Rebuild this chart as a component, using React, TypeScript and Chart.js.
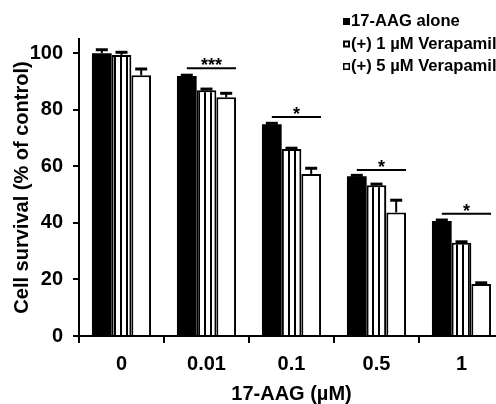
import React, { useEffect, useRef } from 'react';
import { Chart, registerables } from 'chart.js';

Chart.register(...registerables);

const FONT = '"Liberation Sans", Arial, sans-serif';

const categories = ['0', '0.01', '0.1', '0.5', '1'];
const seriesLabels = ['17-AAG alone', '(+) 1 µM Verapamil', '(+) 5 µM Verapamil'];
const alone = [100, 91.9, 74.9, 56.5, 40.7];
const vera1 = [99.3, 86.9, 66.1, 53.3, 33.0];
const vera5 = [92.2, 84.4, 57.3, 43.7, 18.4];
const aloneErr = [1.2, 0.3, 0.3, 0.3, 0.3];
const vera1Err = [1.0, 0.4, 0.3, 0.4, 0.3];
const vera5Err = [2.2, 1.4, 2.0, 4.3, 0.4];
const sigLevel: (number | null)[] = [null, 94.7, 77.4, 58.7, 43.2];
const sigMarks = ['', '***', '*', '*', '*'];
const yMin = 0;
const yMax = 105;
const yStep = 20;
const xTitle = '17-AAG (µM)';
const yTitle = 'Cell survival (% of control)';

const overlayPlugin = {
  id: 'overlay',
  afterDatasetsDraw(chart: any) {
    const ctx = chart.ctx;
    const ys = chart.scales.y;
    ctx.save();
    ctx.strokeStyle = '#000';
    ctx.fillStyle = '#000';
    chart.data.datasets.forEach((ds: any, di: number) => {
      const meta = chart.getDatasetMeta(di);
      meta.data.forEach((el: any, i: number) => {
        const v = ds.data[i];
        const e = ds.errors[i];
        const top = ys.getPixelForValue(v + e);
        const x = el.x;
        ctx.lineWidth = 2;
        ctx.beginPath();
        ctx.moveTo(x, el.y);
        ctx.lineTo(x, top);
        ctx.stroke();
        ctx.lineWidth = 3;
        ctx.beginPath();
        ctx.moveTo(x - 6, top);
        ctx.lineTo(x + 6, top);
        ctx.stroke();
      });
    });
    const m0 = chart.getDatasetMeta(0);
    const m2 = chart.getDatasetMeta(2);
    sigLevel.forEach((lv, i) => {
      if (lv == null) return;
      const x1 = m0.data[i].x;
      const b = m2.data[i];
      const x2 = b.x + b.width / 2;
      const yy = ys.getPixelForValue(lv);
      ctx.lineWidth = 2;
      ctx.beginPath();
      ctx.moveTo(x1, yy);
      ctx.lineTo(x2, yy);
      ctx.stroke();
      ctx.font = `bold 18px ${FONT}`;
      ctx.textAlign = 'center';
      ctx.textBaseline = 'alphabetic';
      ctx.fillText(sigMarks[i], (x1 + x2) / 2, yy + 3);
    });
    ctx.restore();
  },
  afterDraw(chart: any) {
    const ctx = chart.ctx;
    ctx.save();
    const rows = [21.5, 44, 66.5];
    const bx = 343;
    const bs = 7;
    chart.data.datasets.forEach((ds: any, di: number) => {
      const cy = rows[di];
      const top = cy - bs / 2;
      if (di === 0) {
        ctx.fillStyle = '#000';
        ctx.fillRect(bx, top, bs, bs);
      } else if (di === 1) {
        ctx.fillStyle = '#000';
        ctx.fillRect(bx, top, bs, bs);
        ctx.fillStyle = '#fff';
        ctx.fillRect(bx + 2, top + 2, bs - 4, bs - 4);
      } else {
        ctx.fillStyle = '#000';
        ctx.fillRect(bx, top, bs, bs);
        ctx.fillStyle = '#fff';
        ctx.fillRect(bx + 1.5, top + 1.5, bs - 3, bs - 3);
      }
      ctx.fillStyle = '#000';
      ctx.font = `bold 16.6px ${FONT}`;
      ctx.textAlign = 'left';
      ctx.textBaseline = 'middle';
      ctx.fillText(ds.label, bx + bs + 1, cy);
    });
    ctx.restore();
  },
};

export default function App() {
  const ref = useRef<HTMLCanvasElement | null>(null);
  useEffect(() => {
    const canvas = ref.current;
    if (!canvas) return;
    const ctx = canvas.getContext('2d')!;
    const pc = document.createElement('canvas');
    pc.width = 6;
    pc.height = 4;
    const p = pc.getContext('2d')!;
    p.fillStyle = '#fff';
    p.fillRect(0, 0, 6, 4);
    p.fillStyle = '#000';
    p.fillRect(0, 0, 2, 4);
    const pattern = ctx.createPattern(pc, 'repeat');

    const tickFont = { family: FONT, size: 20, weight: 'bold' as const };
    const chart = new Chart(ctx, {
      type: 'bar',
      data: {
        labels: categories,
        datasets: [
          {
            label: seriesLabels[0],
            data: alone,
            errors: aloneErr,
            backgroundColor: '#000',
            borderColor: '#000',
            borderWidth: 0,
          } as any,
          {
            label: seriesLabels[1],
            data: vera1,
            errors: vera1Err,
            backgroundColor: pattern,
            borderColor: '#000',
            borderWidth: 2,
          } as any,
          {
            label: seriesLabels[2],
            data: vera5,
            errors: vera5Err,
            backgroundColor: '#fff',
            borderColor: '#000',
            borderWidth: 2,
          } as any,
        ],
      },
      options: {
        animation: false,
        responsive: false,
        datasets: { bar: { categoryPercentage: 0.695, barPercentage: 1 } },
        layout: { padding: { top: 39, right: 26, left: 0, bottom: 0 } },
        plugins: { legend: { display: false }, tooltip: { enabled: false } },
        scales: {
          x: {
            afterFit: (s: any) => {
              s.height = 68;
            },
            border: { display: true, color: '#000', width: 2 },
            grid: {
              drawOnChartArea: false,
              drawTicks: true,
              tickLength: 7,
              color: '#000',
              lineWidth: 2,
              offset: true,
            },
            ticks: { color: '#000', font: tickFont, padding: 9 },
            title: {
              display: true,
              text: xTitle,
              color: '#000',
              font: { family: FONT, size: 20, weight: 'bold', lineHeight: 1 },
              padding: { top: 0, bottom: 0 },
            },
          },
          y: {
            min: yMin,
            max: yMax,
            afterFit: (s: any) => {
              s.width = 79;
            },
            border: { display: true, color: '#000', width: 2 },
            grid: {
              drawOnChartArea: false,
              drawTicks: true,
              tickLength: 6,
              color: '#000',
              lineWidth: 2,
            },
            ticks: {
              stepSize: yStep,
              includeBounds: false,
              color: '#000',
              font: tickFont,
              padding: 10,
            },
            title: {
              display: true,
              text: yTitle,
              color: '#000',
              font: { family: FONT, size: 20, weight: 'bold', lineHeight: 1 },
              padding: { top: 12, bottom: 0 },
            },
          },
        },
      } as any,
      plugins: [overlayPlugin],
    });
    return () => chart.destroy();
  }, []);

  return (
    <div
      style={{
        position: 'fixed',
        left: 0,
        top: 0,
        width: 496,
        height: 404,
        overflow: 'hidden',
        background: '#fff',
      }}
    >
      <canvas ref={ref} width={530} height={404} style={{ display: 'block' }} />
    </div>
  );
}
